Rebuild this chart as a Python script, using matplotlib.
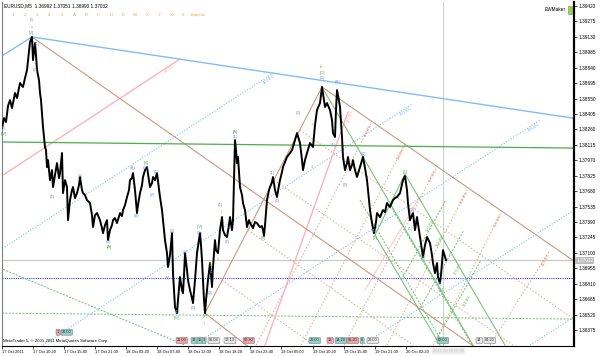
import matplotlib
matplotlib.use('Agg')
import matplotlib.pyplot as plt

plt.rcParams['font.family'] = ['Liberation Sans', 'DejaVu Sans']

# EURUSD M5 closes (bar slot, price)
bars = [2, 4, 6, 8, 10, 12, 15, 17, 20, 23, 25, 27, 29, 30, 32, 33, 35, 36, 37, 39,
        40, 41, 42, 43, 45, 46, 47, 48, 50, 52, 53, 55, 57, 59, 60, 62, 63, 65, 67, 68,
        70, 72, 73, 75, 77, 79, 80, 82, 83, 85, 87, 90, 92, 93, 95, 97, 100, 102, 103, 105,
        107, 108, 110, 112, 113, 115, 117, 120, 122, 123, 125, 127, 129, 130, 132, 133, 135, 137, 138, 140,
        142, 143, 145, 147, 149, 150, 152, 153, 155, 157, 160, 162, 163, 165, 167, 168, 170, 172, 173, 175,
        177, 178, 180, 182, 183, 184, 185, 187, 188, 190, 192, 193, 195, 197, 199, 200, 201, 202, 203, 204,
        205, 206, 208, 210, 212, 213, 215, 216, 218, 220, 222, 223, 225, 227, 229, 230, 232, 233, 234, 235,
        236, 237, 238, 240, 242, 243, 245, 247, 249, 250, 252, 253, 255, 257, 259, 260, 262, 263, 264, 265,
        267, 269, 270, 272, 273, 275, 277, 279, 280, 282, 283, 285, 287, 290, 292, 293, 295, 297, 300, 302,
        303, 305, 307, 310, 313, 315, 317, 320, 322, 324, 325, 327, 330, 332, 333, 335, 336, 337, 338, 340,
        342, 343, 345, 347, 348, 350, 352, 353, 355, 357, 360, 363, 365, 367, 370, 372, 374, 376, 377, 380,
        383, 385, 387, 390, 393, 395, 397, 400, 403, 405, 407, 408, 410, 412, 413, 415, 417, 420, 423, 425,
        427, 430, 432, 433, 435, 437, 438, 440, 441, 442, 443, 445, 446]
close = [1.38273, 1.38367, 1.38330, 1.38480, 1.38536, 1.38461, 1.38602, 1.38555, 1.38696, 1.38659,
         1.38743, 1.38818, 1.38988, 1.39082, 1.39129, 1.38912, 1.39072, 1.38959, 1.38818, 1.38724,
         1.38602, 1.38536, 1.38414, 1.38283, 1.38095, 1.38066, 1.37907, 1.37972, 1.37784, 1.37878,
         1.37719, 1.37831, 1.37944, 1.37803, 1.37850, 1.38038, 1.37662, 1.37784, 1.37719, 1.37408,
         1.37596, 1.37690, 1.37719, 1.37615, 1.37662, 1.37737, 1.37813, 1.37690, 1.37662, 1.37643,
         1.37596, 1.37568, 1.37455, 1.37343, 1.37455, 1.37474, 1.37408, 1.37333, 1.37286, 1.37361,
         1.37408, 1.37220, 1.37314, 1.37361, 1.37408, 1.37427, 1.37380, 1.37474, 1.37446, 1.37502,
         1.37549, 1.37625, 1.37690, 1.37784, 1.37803, 1.37850, 1.37690, 1.37474, 1.37549, 1.37662,
         1.37737, 1.37813, 1.37878, 1.37907, 1.37784, 1.37719, 1.37756, 1.37813, 1.37784, 1.37850,
         1.37625, 1.37502, 1.37408, 1.37220, 1.37098, 1.36967, 1.37079, 1.37286, 1.36910, 1.36591,
         1.36534, 1.36656, 1.36873, 1.36750, 1.36722, 1.36891, 1.37098, 1.36938, 1.36844, 1.36750,
         1.36675, 1.36628, 1.36844, 1.37098, 1.37220, 1.37286, 1.37173, 1.37032, 1.36844, 1.36656,
         1.36534, 1.36656, 1.36844, 1.37004, 1.36779, 1.36967, 1.37220, 1.37126, 1.37098, 1.37314,
         1.37437, 1.37314, 1.37267, 1.37249, 1.37361, 1.37437, 1.37314, 1.37408, 1.37784, 1.38160,
         1.38066, 1.37944, 1.38001, 1.37719, 1.37643, 1.37568, 1.37502, 1.37343, 1.37408, 1.37380,
         1.37352, 1.37333, 1.37390, 1.37380, 1.37352, 1.37343, 1.37352, 1.37314, 1.37258, 1.37361,
         1.37596, 1.37690, 1.37719, 1.37766, 1.37813, 1.37690, 1.37625, 1.37737, 1.37784, 1.37860,
         1.37907, 1.37954, 1.38001, 1.38038, 1.38066, 1.38095, 1.38160, 1.38226, 1.38132, 1.37972,
         1.37878, 1.37972, 1.38038, 1.38132, 1.38095, 1.38301, 1.38442, 1.38508, 1.38659, 1.38536,
         1.38471, 1.38508, 1.38442, 1.38348, 1.38226, 1.38189, 1.38442, 1.38630, 1.38583, 1.38471,
         1.38189, 1.38001, 1.37878, 1.37944, 1.38001, 1.37878, 1.37925, 1.37972, 1.37878, 1.37813,
         1.37907, 1.38001, 1.37897, 1.37784, 1.37502, 1.37380, 1.37286, 1.37390, 1.37474, 1.37437,
         1.37502, 1.37484, 1.37568, 1.37531, 1.37596, 1.37615, 1.37625, 1.37662, 1.37784, 1.37822,
         1.37690, 1.37568, 1.37408, 1.37455, 1.37474, 1.37314, 1.37437, 1.37249, 1.37061, 1.37173,
         1.37249, 1.37192, 1.37079, 1.37004, 1.36910, 1.37004, 1.36873, 1.36816, 1.36891, 1.37004,
         1.37126, 1.37061, 1.37032]

last_price = 1.37032
price_ticks = [1.39420, 1.39275, 1.39130, 1.38985, 1.38840, 1.38695, 1.38550, 1.38405,
               1.38260, 1.38115, 1.37970, 1.37825, 1.37680, 1.37535, 1.37390, 1.37245,
               1.37100, 1.36955, 1.36810, 1.36665, 1.36520, 1.36375]
time_ticks = [2, 33, 64, 95, 126, 157, 188, 219, 250, 281, 313, 344, 375, 406]
time_labels = ['17 Oct 2011', '17 Oct 10:20', '17 Oct 15:40', '17 Oct 21:00',
               '18 Oct 02:20', '18 Oct 07:40', '18 Oct 13:00', '18 Oct 18:20',
               '18 Oct 23:40', '19 Oct 05:00', '19 Oct 10:20', '19 Oct 15:40',
               '19 Oct 21:00', '20 Oct 02:20']

# analysis objects: (bar0, price0, bar1, price1)
blue_solid = [(0, 1.38940, 32, 1.39129), (32, 1.39129, 574, 1.38365)]
green_level = [(2, 1.38142, 574, 1.38085)]
brown_solid = [(32, 1.39129, 520, 1.35918), (322, 1.38659, 574, 1.37023),
               (205, 1.36534, 322, 1.38659), (205, 1.36534, 250, 1.36205)]
pink_solid = [(0, 1.37813, 180, 1.38922), (265, 1.36233, 348, 1.38424)]
pink_thin = [(365, 1.36750, 420, 1.37634)]
blue_dotted = [(0, 1.37126, 275, 1.38800), (43, 1.36233, 412, 1.38499),
               (194, 1.36233, 540, 1.38348), (362, 1.36233, 574, 1.37502),
               (530, 1.36233, 574, 1.36497)]
navy_level = [(2, 1.36863, 574, 1.36863)]
green_dotted = [(2, 1.36534, 574, 1.36478), (0, 1.36957, 185, 1.36233),
                (401, 1.36844, 446, 1.37596), (419, 1.36562, 464, 1.37314),
                (436, 1.36280, 481, 1.37032), (390, 1.37549, 472, 1.36233),
                (360, 1.37596, 444, 1.36233)]
green_solid = [(322, 1.38659, 473, 1.36233), (405, 1.37841, 505, 1.36233),
               (375, 1.37267, 440, 1.36233), (375, 1.37267, 405, 1.37841)]
brown_fan_up = [(256, 1.36233, 372, 1.38334), (301, 1.36233, 405, 1.38123),
                (344, 1.36233, 437, 1.37916), (387, 1.36233, 468, 1.37709),
                (433, 1.36233, 502, 1.37493), (490, 1.36233, 550, 1.37126)]
brown_fan_up_labels = ['100.0%', '161.8%', '200.0%', '261.8%', '300.0%', '400.0%']
brown_fan_down = [(274, 1.37784, 513, 1.36233), (248, 1.37314, 413, 1.36233),
                  (222, 1.36844, 314, 1.36233), (300, 1.38254, 574, 1.36478)]
blue_fan_labels = ['100.0%', '200.0%', '276.4%']
green_fan_labels = [(430, 1.37361, '100.0%'), (440, 1.37220, '161.8%'),
                    (458, 1.36957, '200.0%'), (467, 1.36656, '261.8%')]

# wave marks: (bar, price, text, colour)
waves = [
    (32, 1.39288, '(I)', '#7b8fe6'), (32, 1.39223, 'v', '#d08a5a'), (31, 1.39166, '[V]', '#4caf50'),
    (37, 1.39063, '(1)', '#7b8fe6'), (35, 1.38818, '(2)', '#7b8fe6'),
    (4, 1.38273, '(I)', '#7b8fe6'), (4, 1.38217, '[IV]', '#4caf50'),
    (52, 1.37625, '(1)', '#7b8fe6'), (80, 1.37822, '(2)', '#7b8fe6'),
    (133, 1.37897, '(A)', '#7b8fe6'), (146, 1.37944, '[B]', '#4caf50'), (146, 1.37897, '(C)', '#7b8fe6'),
    (156, 1.37860, '(1)', '#7b8fe6'), (152, 1.37643, '(2)', '#7b8fe6'), (137, 1.37446, '(B)', '#7b8fe6'),
    (108, 1.37202, '(3)', '#7b8fe6'), (109, 1.37155, '[A]', '#4caf50'),
    (172, 1.37305, '(3)', '#7b8fe6'), (167, 1.36863, '(4)', '#7b8fe6'),
    (177, 1.36544, '(1)', '#7b8fe6'), (177, 1.36487, '[III]', '#4caf50'),
    (193, 1.36581, '(3)', '#7b8fe6'), (185, 1.37108, '(4)', '#7b8fe6'),
    (200, 1.37343, '[IV]', '#4caf50'), (200, 1.37286, '(C)', '#7b8fe6'),
    (205, 1.36506, '[V]', '#4caf50'), (205, 1.36440, 'ii', '#d08a5a'),
    (212, 1.36920, '(1)', '#7b8fe6'), (210, 1.36985, '1', '#ff9933'), (210, 1.36722, '(2)', '#7b8fe6'),
    (220, 1.37549, '(1)', '#7b8fe6'), (221, 1.37484, '1', '#ff9933'), (218, 1.37042, '5', '#ff9933'),
    (227, 1.37202, '(2)', '#7b8fe6'),
    (235, 1.38236, '[A]', '#4caf50'), (235, 1.38189, '(1)', '#7b8fe6'),
    (263, 1.37239, '[B]', '#4caf50'), (272, 1.37850, '(1)', '#7b8fe6'), (277, 1.37587, '(2)', '#7b8fe6'),
    (298, 1.38414, '(3)', '#7b8fe6'), (312, 1.38301, '3', '#ff9933'), (312, 1.37907, '4', '#ff9933'),
    (321, 1.38847, 'b', '#d08a5a'), (322, 1.38790, '[C]', '#4caf50'), (322, 1.38743, '(5)', '#7b8fe6'),
    (338, 1.38706, '(B)', '#7b8fe6'), (333, 1.38113, '(1)', '#7b8fe6'), (345, 1.37737, '(3)', '#7b8fe6'),
    (363, 1.38029, '(4)', '#7b8fe6'), (374, 1.37305, '(1)', '#7b8fe6'), (375, 1.37239, '[1]', '#4caf50'),
    (405, 1.37860, '[2]', '#4caf50'), (412, 1.37502, '(2)', '#7b8fe6'), (410, 1.37324, '(1)', '#7b8fe6'),
    (423, 1.37051, '(3)', '#7b8fe6'), (439, 1.36807, '(4)', '#7b8fe6'), (441, 1.36750, '[3]', '#4caf50'),
]

# time-line tags along the bottom: (bar, text, colour)
tags = [(57, '1', '#f0a0a8'), (62, '20:00', '#90d0c8'), (177, '21:00', '#f0a0a8'),
        (192, '13', '#90d0c8'), (198, '15', '#90d0c8'), (203, '3', '#90d0c8'),
        (209, '05:04', '#e8e8e8'), (225, '17:13', '#e8e8e8'), (244, '07:30', '#f0a0a8'),
        (310, '20:00', '#90d0c8'), (328, '12', '#f0a0a8'), (336, '14:20', '#90d0c8'),
        (348, '06:20', '#f0a0a8'), (361, '0', '#90d0c8'), (368, '20:00', '#e8e8e8'),
        (438, '02:00', '#90d0c8'), (477, '14', '#e8e8e8'), (485, '04:20', '#e8e8e8')]

buttons = ['1', '2', '3', '4', '5', 'A', 'B', 'C', 'D', 'E', 'W', 'X', 'Y', 'Xx', 'Z', 'Impulse']
button_x = [13, 25, 37, 49, 62, 74, 86, 98, 111, 123, 135, 147, 159, 172, 183, 198]

fs = 3.4
fig = plt.figure(figsize=(6, 3.56), dpi=100)
ax = fig.add_axes([2 / 600, 10 / 356, 572 / 600, 344 / 356])
ax.set_xlim(2, 574)
ax.set_ylim(1.36225, 1.394576)


def draw(segs, **kw):
    for x0, p0, x1, p1 in segs:
        ax.plot([x0, x1], [p0, p1], **kw)


ax.axhline(last_price, color='#c8c8c8', lw=0.8, zorder=1)
ax.axvline(443, color='#d0d0d0', lw=0.8, zorder=1)

draw(brown_fan_up, color='#dba88a', lw=0.7, ls=(0, (1.5, 2)), zorder=2)
draw(brown_fan_down, color='#dba88a', lw=0.7, ls=(0, (1.5, 2)), zorder=2)
draw(blue_dotted, color='#80bdf5', lw=0.8, ls=(0, (1, 1.5)), zorder=2)
draw(navy_level, color='#3c3cff', lw=0.8, ls=(0, (1, 1)), zorder=2)
draw(green_dotted, color='#6cc06c', lw=0.7, ls=(0, (2, 1.5)), zorder=2)
draw(pink_solid, color='#ffb2bb', lw=1.0, zorder=2)
draw(pink_thin, color='#ffc4cb', lw=0.7, zorder=2)
draw(green_solid, color='#7ac47a', lw=0.8, zorder=2)
draw(brown_solid, color='#c99a7f', lw=0.8, zorder=2)
draw(green_level, color='#4cae4c', lw=0.9, zorder=2)
draw(blue_solid, color='#80bdf5', lw=1.0, zorder=2)

ax.plot(bars, close, color='black', lw=1.4, zorder=3)

for (x0, p0, x1, p1), lab in zip(brown_fan_up, brown_fan_up_labels):
    ax.text(x1 - 4, p1 - 0.0002, lab, color='#d09070', fontsize=3, rotation=62,
            ha='center', va='top', zorder=4)
for (x0, p0, x1, p1), lab in zip(blue_dotted, blue_fan_labels):
    ax.text(x1 - 6, p1 - 0.0002, lab, color='#6aaef0', fontsize=3, rotation=33,
            ha='center', va='top', zorder=4)
for x, p, lab in green_fan_labels:
    ax.text(x, p, lab, color='#5cb85c', fontsize=3, rotation=60, ha='center', va='center', zorder=4)
ax.text(170, 1.38830, '88.2%', color='#ffaab4', fontsize=3, rotation=34, ha='center', va='center')
ax.text(350, 1.38380, '127.0%', color='#ffaab4', fontsize=3, rotation=70, ha='center', va='center')

for x, p, t, c in waves:
    ax.text(x, p, t, color=c, fontsize=3.2, ha='center', va='center', zorder=5)

xt = ax.get_xaxis_transform()
for x, t, c in tags:
    ty = 0.04 if x < 100 else 0.016
    ax.text(x, ty, t, transform=xt, fontsize=2.8, color='#303030', ha='left', va='center',
            bbox=dict(boxstyle='round,pad=0.25', fc=c, ec='#808080', lw=0.4), zorder=6)
ax.text(433, -0.014, '2011.10.20 02:05', transform=xt, fontsize=3, color='#c8c8c8',
        ha='left', va='center', clip_on=False,
        bbox=dict(boxstyle='square,pad=0.2', fc='#ececec', ec='none'), zorder=6)

ax.text(0.003, 0.995, 'EURUSD,M5  1.36992 1.37051 1.36990 1.37032', transform=ax.transAxes,
        fontsize=fs, ha='left', va='top')
for x, b in zip(button_x, buttons):
    ax.text(x, 0.962, b, transform=xt, fontsize=3.2, color='#ff9933', ha='center', va='center')
ax.text(0.002, 0.015, 'MetaTrader 5, \u00a9 2001-2011 MetaQuotes Software Corp.', transform=ax.transAxes,
        fontsize=3.1, ha='left', va='center', zorder=5)
ax.text(0.985, 0.985, 'EWMaker', transform=ax.transAxes, fontsize=fs, ha='right', va='top')
ax.text(0.994, 0.985, ' ', transform=ax.transAxes, fontsize=fs, ha='right', va='top',
        bbox=dict(boxstyle='square,pad=0.3', fc='#9ccc50', ec='#6a9a30', lw=0.4))

ax.yaxis.tick_right()
ax.set_yticks(price_ticks)
ax.set_yticklabels(['%.5f' % v for v in price_ticks])
ax.set_xticks(time_ticks)
ax.set_xticklabels(time_labels)
for lab in ax.get_xticklabels():
    lab.set_ha('left')
ax.tick_params(axis='y', length=2, width=0.5, pad=1, labelsize=fs)
ax.tick_params(axis='x', length=2, width=0.5, pad=1, labelsize=2.9)
ax.text(1.004, last_price, '%.5f' % last_price, transform=ax.get_yaxis_transform(),
        fontsize=fs, color='white', ha='left', va='center', clip_on=False,
        bbox=dict(boxstyle='square,pad=0.2', fc='#bdbdbd', ec='none'), zorder=6)

ax.spines['top'].set_visible(False)
ax.spines['left'].set_color('#808080')
ax.spines['left'].set_linewidth(0.8)
ax.spines['right'].set_linewidth(1.6)
ax.spines['bottom'].set_linewidth(0.8)

fig.savefig('out.png', dpi=100)
